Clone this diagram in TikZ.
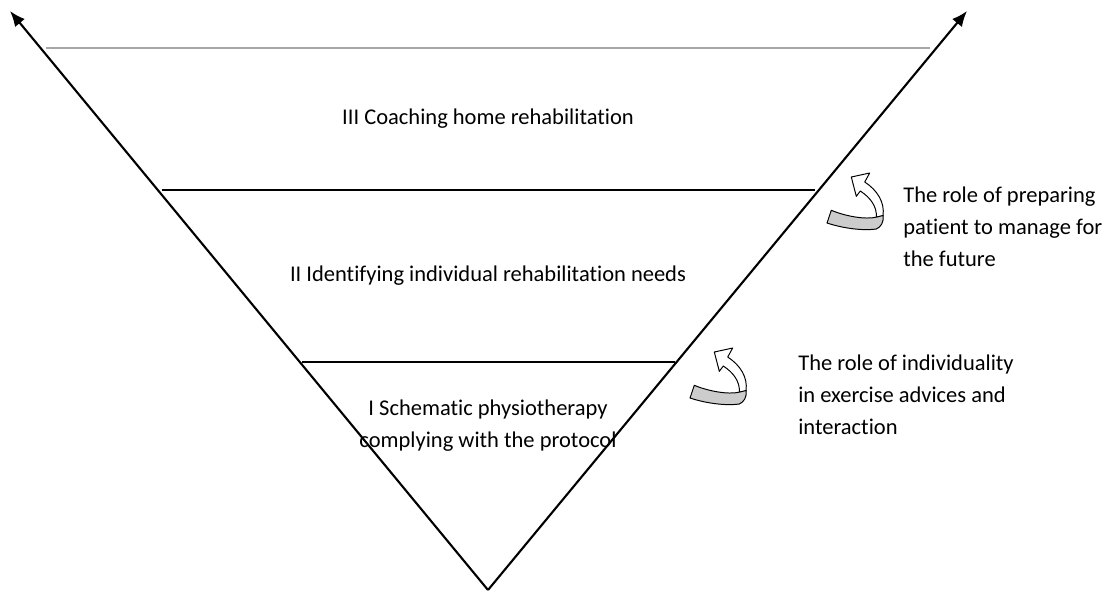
\documentclass[tikz,border=0pt]{standalone}
\usepackage{fontspec}
\setmainfont{Carlito}[Ligatures=NoCommon]
\usetikzlibrary{arrows.meta}

\tikzset{
  turnarrow/.pic={
    % Pfeilkopf und Schaft
    \draw[line width=.7pt, line join=round, fill=white]
      (29.3,26.3) -- (24.3,7) -- (42.7,3) -- (37.7,12)
      .. controls (50,20) and (58,32) .. (56,46)
      -- (49.3,47)
      .. controls (50,37) and (44,28) .. (33.3,21) -- cycle;
    % Band
    \draw[line width=.7pt, line join=round, fill=gray!40]
      (4.3,40.3) .. controls (18,46) and (38,50) .. (50,47)
      -- (56,45.5)
      .. controls (57,52) and (54,57) .. (49.3,59)
      .. controls (35,61) and (15,58) .. (0,53) -- cycle;
  }
}

\begin{document}
\begin{tikzpicture}
    [
        x=0.025cm, y=-0.025cm,
        every node/.style={font=\fontsize{16}{22.7}\selectfont, inner sep=0pt},
        side/.style={line width=1.5pt, -{Latex[length=11pt,width=9pt]}},
        level line/.style={line width=1.5pt},
        role/.style={anchor=west, align=left}
    ]

    % Platzhalter
    \useasboundingbox (0,0) rectangle (1110,592);

    \coordinate (apex) at (488,590);
    \coordinate (tipL) at (10,11);
    \coordinate (tipR) at (967,11);

    \draw[side] (apex) -- (tipL);
    \draw[side] (apex) -- (tipR);

    \coordinate (topL) at (46,48);
    \coordinate (topR) at (930,48);
    \coordinate (midL) at (162,190);
    \coordinate (midR) at (815,190);
    \coordinate (lowL) at (302,362);
    \coordinate (lowR) at (675,362);

    \draw[gray!70, line width=.8pt] (topL) -- (topR);
    \draw[level line] (midL) -- (midR);
    \draw[level line] (lowL) -- (lowR);

    \node (lvl3) at (488,119) {III Coaching home rehabilitation};
    \node (lvl2) at (488,276) {II Identifying individual rehabilitation needs};
    \node[align=center] (lvl1) at (488,426) {I Schematic physiotherapy\\complying with the protocol};

    \pic at (827,170) {turnarrow};
    \pic at (690,345) {turnarrow};

    \node[role] (roleA) at (903,227) {The role of preparing\\patient to manage for\\the future};
    \node[role] (roleB) at (798,395) {The role of individuality\\in exercise advices and\\interaction};
\end{tikzpicture}
\end{document}
